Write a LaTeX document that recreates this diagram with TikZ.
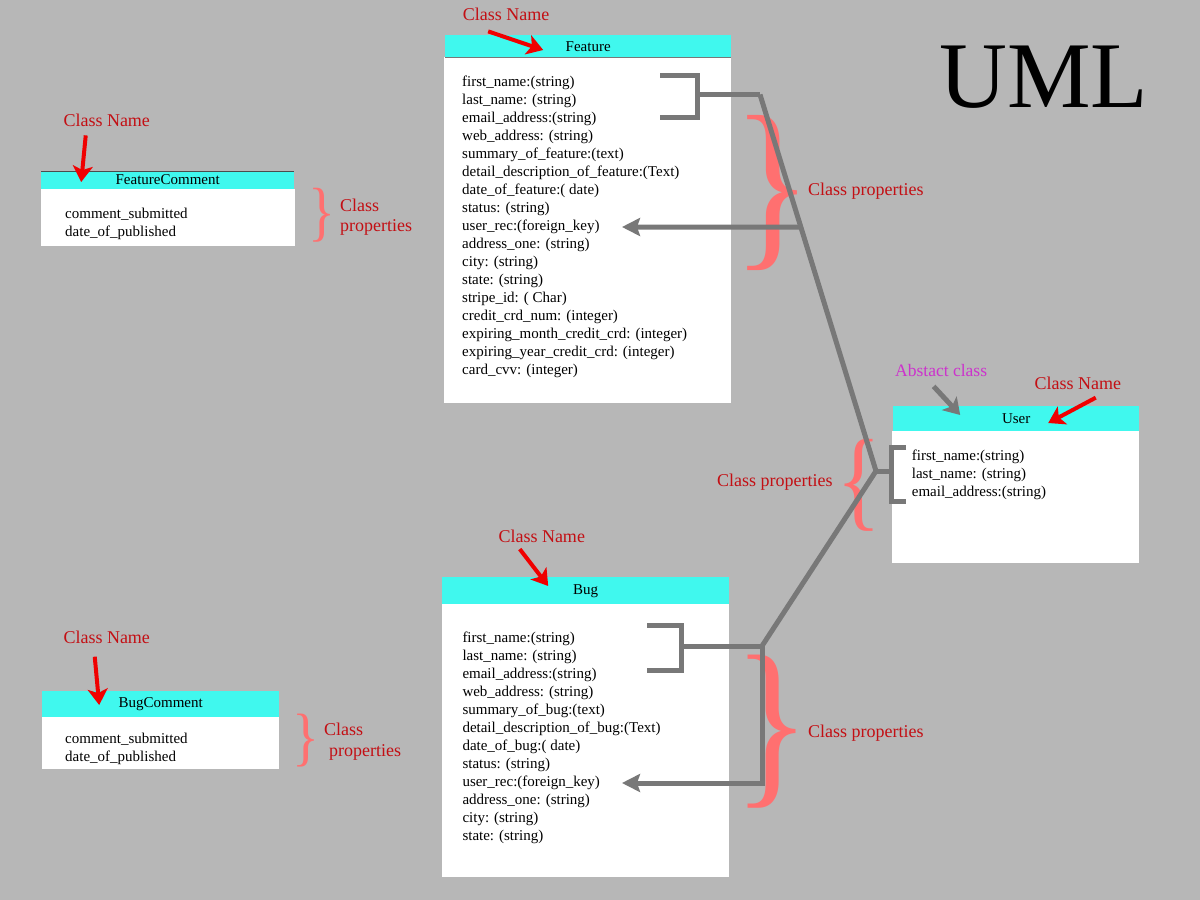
\documentclass[tikz,border=0pt]{standalone}
\usepackage{fontspec}
\setmainfont{Liberation Serif}
\usepackage{graphicx}
\usetikzlibrary{arrows.meta,positioning,calc}

\definecolor{bggray}{RGB}{183,183,183}
\definecolor{headcyan}{RGB}{64,248,238}
\definecolor{linkgray}{RGB}{120,120,120}
\definecolor{notered}{RGB}{195,15,20}
\definecolor{pointred}{RGB}{240,0,0}
\definecolor{bracered}{RGB}{255,112,112}
\definecolor{abstractpink}{RGB}{204,51,204}

\newcommand{\rightcurl}[2]{\resizebox*{#1}{#2}{\}}}
\newcommand{\leftcurl}[2]{\resizebox*{#1}{#2}{\{}}

\begin{document}
\begin{tikzpicture}[
    x=1pt, y=-1pt,
    header/.style={rectangle, fill=headcyan, anchor=north west, inner sep=0pt, font=\fontsize{15}{18}\selectfont},
    body/.style={rectangle, fill=white, anchor=north west, inner sep=0pt},
    attrs/.style={anchor=north west, inner sep=0pt, align=left, font=\fontsize{15}{18}\selectfont},
    note/.style={anchor=base west, inner sep=0pt, text=notered, font=\fontsize{18}{20}\selectfont},
    curl/.style={inner sep=0pt, text=bracered},
    link/.style={draw=linkgray, line width=5pt, line join=miter},
    keyarrow/.style={link, -{Stealth[length=18pt, width=18pt, inset=3pt]}},
    pointer/.style={draw=pointred, line width=4pt, -{Stealth[length=16pt, width=20pt, inset=4pt]}}
]
% Background
\fill[bggray] (0,0) rectangle (1200,900);

% Title
\node[anchor=base west, inner sep=0pt, font=\fontsize{94}{94}\selectfont] (title) at (939,107) {UML};

% Feature class
\node[header, minimum width=286pt, minimum height=22pt] (feature) at (445,35) {Feature};
\node[body, minimum width=287pt, minimum height=346pt] (featurebody) at (444,57) {};
\draw[linkgray, line width=1pt] (feature.south west) -- (feature.south east);
\node[attrs] (featureattrs) at (462,75.8) {first\_name:(string)\\last\_name: (string)\\email\_address:(string)\\web\_address: (string)\\summary\_of\_feature:(text)\\detail\_description\_of\_feature:(Text)\\date\_of\_feature:( date)\\status: (string)\\user\_rec:(foreign\_key)\\address\_one: (string)\\city: (string)\\state: (string)\\stripe\_id: ( Char)\\credit\_crd\_num: (integer)\\expiring\_month\_credit\_crd: (integer)\\expiring\_year\_credit\_crd: (integer)\\card\_cvv: (integer)};

% FeatureComment class
\node[header, minimum width=253pt, minimum height=17.5pt] (featurecomment) at (41,171) {FeatureComment};
\node[body, minimum width=254pt, minimum height=57pt] (featurecommentbody) at (41,188.5) {};
\draw[black!70, line width=1pt] (featurecomment.north west) -- (featurecomment.north east);
\node[attrs] (featurecommentattrs) at (65,208) {comment\_submitted\\date\_of\_published};

% BugComment class
\node[header, minimum width=237pt, minimum height=26pt] (bugcomment) at (42,691) {BugComment};
\node[body, minimum width=237pt, minimum height=52pt] (bugcommentbody) at (42,717) {};
\node[attrs] (bugcommentattrs) at (65,732.5) {comment\_submitted\\date\_of\_published};

% User class
\node[header, minimum width=246pt, minimum height=24.5pt] (user) at (893,406) {User};
\node[body, minimum width=247pt, minimum height=132pt] (userbody) at (892,430.5) {};
\node[attrs] (userattrs) at (911.7,449.8) {first\_name:(string)\\last\_name: (string)\\email\_address:(string)};

% Bug class
\node[header, minimum width=287pt, minimum height=27pt] (bug) at (442,577) {Bug};
\node[body, minimum width=287pt, minimum height=273pt] (bugbody) at (442,604) {};
\node[attrs] (bugattrs) at (462.3,631.5) {first\_name:(string)\\last\_name: (string)\\email\_address:(string)\\web\_address: (string)\\summary\_of\_bug:(text)\\detail\_description\_of\_bug:(Text)\\date\_of\_bug:( date)\\status: (string)\\user\_rec:(foreign\_key)\\address\_one: (string)\\city: (string)\\state: (string)};

% Braces
\node[curl] (featurecurl) at (773,192.5) {\rightcurl{80pt}{155pt}};
\node[curl] (bugcurl) at (772,731.5) {\rightcurl{77pt}{153pt}};
\node[curl] (usercurl) at (859,485) {\leftcurl{45pt}{92pt}};
\node[curl] (featurecommentcurl) at (321.5,215) {\rightcurl{27pt}{54pt}};
\node[curl] (bugcommentcurl) at (305.5,740.5) {\rightcurl{27pt}{53pt}};

% Junctions
\coordinate (fbtop) at (660,75);
\coordinate (fbbot) at (660,117.5);
\coordinate (fbmid) at (697,94.5);
\coordinate (fjoin) at (760,94.5);
\coordinate (ubtop) at (906,447.5);
\coordinate (ubbot) at (906,501.5);
\coordinate (ubmid) at (891,471);
\coordinate (ujoin) at (876,471);
\coordinate (bbtop) at (647,625);
\coordinate (bbbot) at (647,670);
\coordinate (bbmid) at (681,646);
\coordinate (bjoin) at (762,646);
\coordinate (featurekey) at (622,227);
\coordinate (bugkey) at (622,783);

% Links
\draw[link] (fbtop) -- ++(37,0) |- (fbbot);
\draw[link] (fbmid) -- (fjoin);
\draw[link] (fjoin) -- (ujoin) -- (bjoin);
\draw[link] (ujoin) -- (ubmid);
\draw[link] (ubtop) -- ++(-15,0) |- (ubbot);
\draw[link] (bbtop) -- ++(34,0) |- (bbbot);
\draw[link] (bbmid) -- (bjoin);
\draw[keyarrow] ($(fjoin)!0.352!(ujoin)$) -- (featurekey);
\draw[keyarrow] (bjoin) |- (bugkey);

% Labels
\node[note] (featurename) at (462.7,20) {Class Name};
\node[note] (featurecommentname) at (63.3,126) {Class Name};
\node[note] (bugcommentname) at (63.3,643.3) {Class Name};
\node[note] (bugname) at (498.3,542.7) {Class Name};
\node[note] (username) at (1034.3,389.3) {Class Name};
\node[note, text=abstractpink, font=\fontsize{17.5}{20}\selectfont] (abstract) at (895,376) {Abstact class};
\node[note] (featureprops) at (808,195) {Class properties};
\node[note] (bugprops) at (808,737) {Class properties};
\node[note] (userprops) at (717,486) {Class properties};
\node[note, anchor=north west, align=left] (featurecommentprops) at (340,198.7) {Class\\properties};
\node[note, anchor=north west, align=left, font=\fontsize{18}{21.5}\selectfont] (bugcommentprops) at (324,722.7) {Class\\\hspace*{5pt}properties};

% Pointers
\draw[pointer] ([shift={(-18,11)}]featurename.south) -- ([shift={(-45,15)}]feature.north);
\draw[pointer] ([shift={(-21,9)}]featurecommentname.south) -- ([shift={(-86.5,11)}]featurecomment.north);
\draw[pointer] ([shift={(-12,13)}]bugcommentname.south) -- ([shift={(-61.5,14)}]bugcomment.north);
\draw[pointer] ([shift={(-22,6)}]bugname.south) -- ([shift={(-37.5,9)}]bug.north);
\draw[pointer] ([shift={(18,8)}]username.south) -- ([shift={(32,17)}]user.north);
\draw[pointer, draw=linkgray, line width=5pt] ([shift={(-7.5,10)}]abstract.south) -- ([shift={(-56,9)}]user.north);

\end{tikzpicture}
\end{document}
